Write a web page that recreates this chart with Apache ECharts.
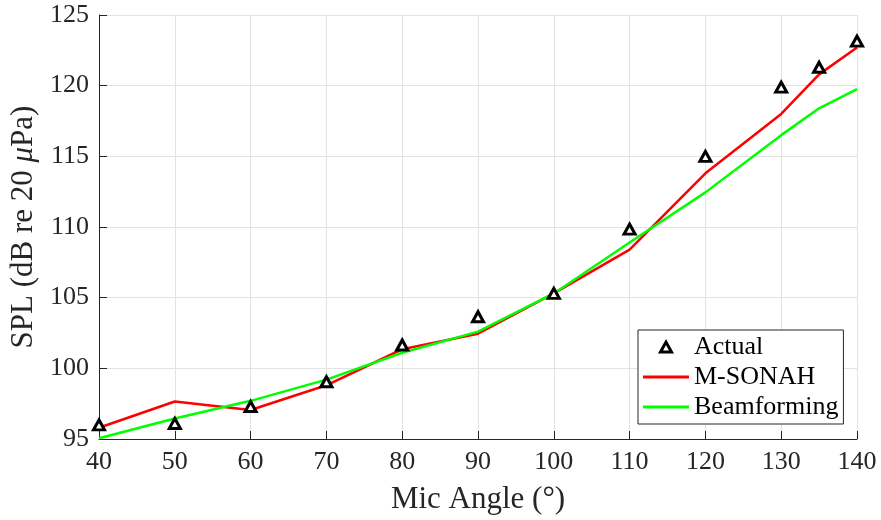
<!DOCTYPE html>
<html>
<head>
<meta charset="utf-8">
<script src="https://cdn.jsdelivr.net/npm/echarts@6/dist/echarts.min.js"></script>
<style>html,body{margin:0;padding:0;background:#fff}#c{width:881px;height:520px}</style>
</head>
<body>
<div id="c"></div>
<script>
const angles = [40, 50, 60, 70, 80, 90, 100, 110, 120, 130, 135, 140];
const actual = [96.0, 96.1, 97.3, 99.05, 101.65, 103.65, 105.3, 109.85, 115.0, 119.9, 121.3, 123.15];
const msonah = [95.8, 97.65, 97.05, 98.8, 101.35, 102.45, 105.3, 108.4, 113.8, 118.0, 120.8, 122.7];
const beamforming = [95.05, 96.45, 97.7, 99.2, 101.1, 102.6, 105.3, 108.9, 112.45, 116.5, 118.4, 119.75];
const xTicks = {min: 40, max: 140, interval: 10};
const yTicks = {min: 95, max: 125, interval: 5};

const pairs = (ys) => angles.map((a, i) => [a, ys[i]]);
const FONT = 'Liberation Serif';
const axisColor = '#262626';
const TRI = 'path://M0,10L5.5,0L11,10Z';
const LINE_ICON = 'path://M0,0L46,0L46,3L0,3Z';

const chart = echarts.init(document.getElementById('c'), null, {renderer: 'canvas'});
chart.setOption({
  animation: false,
  backgroundColor: '#ffffff',
  grid: {left: 98, right: 24, top: 15, bottom: 80, containLabel: false},
  xAxis: {
    type: 'value', min: xTicks.min, max: xTicks.max, interval: xTicks.interval,
    name: 'Mic Angle (°)', nameLocation: 'middle', nameGap: 45,
    nameTextStyle: {fontFamily: FONT, fontSize: 31, color: axisColor},
    axisLine: {show: true, lineStyle: {color: axisColor, width: 1}},
    axisTick: {show: true, inside: true, length: 8, lineStyle: {color: axisColor}},
    axisLabel: {fontFamily: FONT, fontSize: 26, color: axisColor, margin: 10},
    splitLine: {show: true, lineStyle: {color: '#e3e3e3', width: 1}}
  },
  yAxis: {
    type: 'value', min: yTicks.min, max: yTicks.max, interval: yTicks.interval,
    name: 'SPL (dB re 20 {i|μ}Pa)', nameLocation: 'middle', nameGap: 60,
    nameTextStyle: {fontFamily: FONT, fontSize: 31, color: axisColor,
      rich: {i: {fontFamily: FONT, fontSize: 31, fontStyle: 'italic', color: axisColor}}},
    axisLine: {show: true, lineStyle: {color: axisColor, width: 1}},
    axisTick: {show: true, inside: true, length: 8, lineStyle: {color: axisColor}},
    axisLabel: {fontFamily: FONT, fontSize: 26, color: axisColor, margin: 10},
    splitLine: {show: true, lineStyle: {color: '#e3e3e3', width: 1}}
  },
  legend: {
    orient: 'vertical', left: 638, top: 330,
    padding: [4, 5, 4, 5], itemGap: 4, itemWidth: 46, itemHeight: 10,
    symbolKeepAspect: true,
    backgroundColor: '#ffffff', borderColor: axisColor, borderWidth: 1,
    textStyle: {fontFamily: FONT, fontSize: 26, color: '#000'},
    data: [
      {name: 'Actual', icon: TRI, itemStyle: {color: '#ffffff', borderColor: '#000000', borderWidth: 3, opacity: 1}},
      {name: 'M-SONAH', icon: LINE_ICON, itemStyle: {color: '#ff0000', borderWidth: 0, opacity: 1}},
      {name: 'Beamforming', icon: LINE_ICON, itemStyle: {color: '#00ff00', borderWidth: 0, opacity: 1}}
    ]
  },
  series: [
    {
      name: 'M-SONAH', type: 'line', data: pairs(msonah), symbol: 'none',
      lineStyle: {color: '#ff0000', width: 2.5}, itemStyle: {color: '#ff0000'}, z: 2
    },
    {
      name: 'Beamforming', type: 'line', data: pairs(beamforming), symbol: 'none',
      lineStyle: {color: '#00ff00', width: 2.5}, itemStyle: {color: '#00ff00'}, z: 3
    },
    {
      name: 'Actual', type: 'scatter', data: pairs(actual), symbol: 'triangle', symbolSize: [11, 10],
      itemStyle: {color: '#ffffff', borderColor: '#000000', borderWidth: 3, opacity: 1}, z: 4
    }
  ]
});
</script>
</body>
</html>
